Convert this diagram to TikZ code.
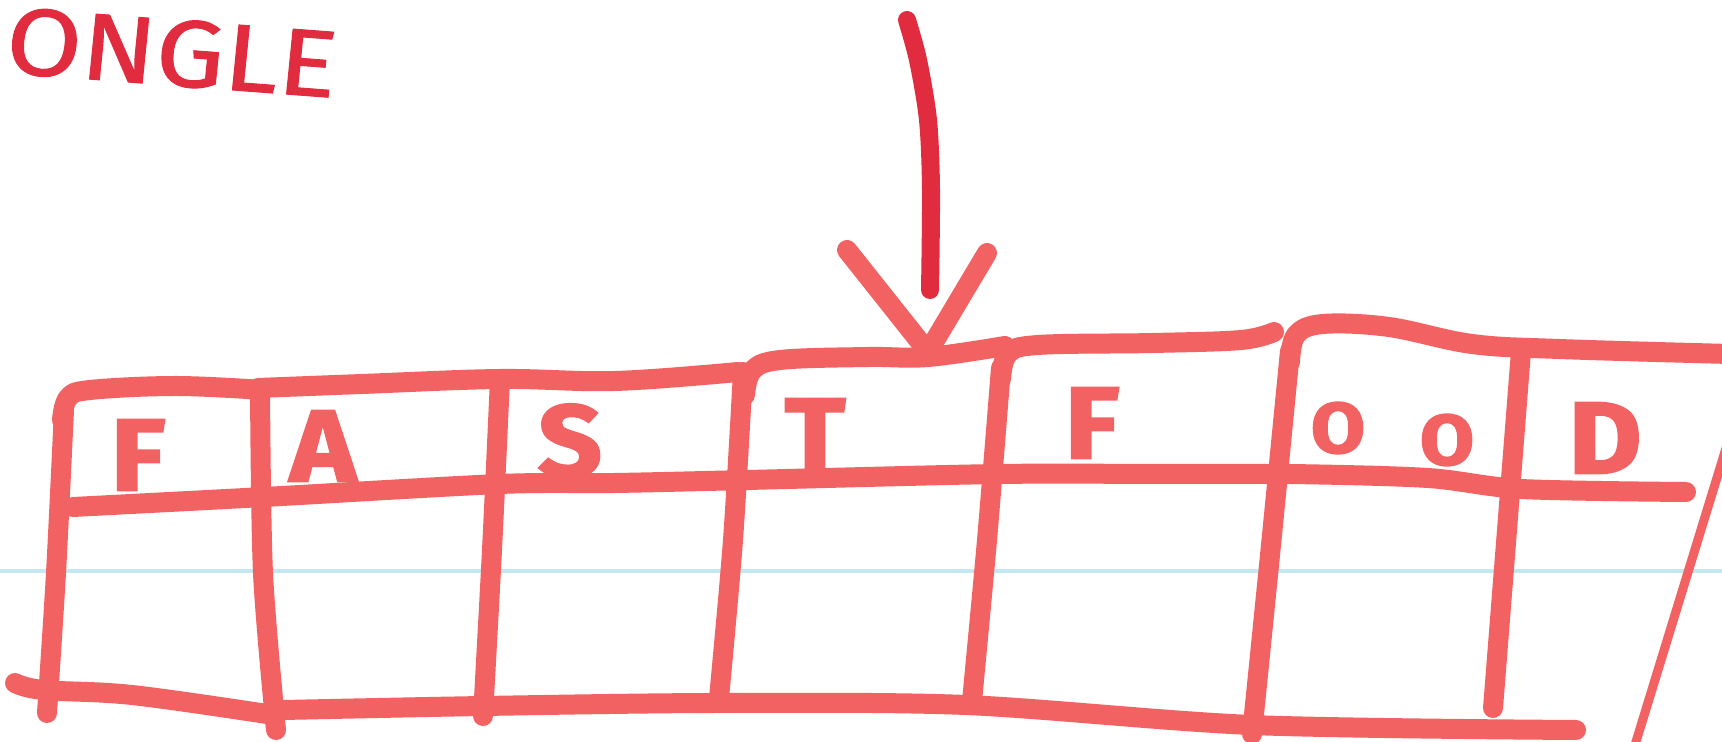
\documentclass[tikz,border=0pt]{standalone}
\usepackage{fontspec}
\setsansfont{Fira Sans}
\newfontfamily\markerfont{Fira Sans}[BoldFeatures={FakeBold=2}]
\newfontfamily\titlefont{Fira Sans}[FakeBold=1]
\usepackage{tikz}
\usetikzlibrary{arrows.meta,positioning}
\definecolor{markerred}{RGB}{243,98,98}
\definecolor{inkred}{RGB}{224,44,62}
\definecolor{ruleblue}{RGB}{196,232,240}
\tikzset{
  penline/.style={draw=markerred,line width=2mm,line cap=round,line join=round},
  inkline/.style={draw=inkred,line width=1.8mm,line cap=round,line join=round},
  thinpen/.style={draw=markerred,line width=0.9mm,line cap=round},
  cellletter/.style={text=markerred,font=\markerfont\bfseries\fontsize{29}{29}\selectfont,inner sep=0pt,xscale=1.1},
  smallletter/.style={cellletter,scale=0.7},
  titletext/.style={text=inkred,font=\titlefont\fontsize{27}{27}\selectfont,inner sep=0pt,xscale=1.15},
  ruleline/.style={draw=ruleblue,line width=0.35mm}
}

\begin{document}
\begin{tikzpicture}[x=0.1mm,y=-0.1mm]
  \useasboundingbox (0,0) rectangle (1722,742);
  %% notebook rule
  \draw[ruleline] (0,571) -- (1722,571);

  %% title fragment
  \node[titletext,anchor=west,rotate=-5] (title) at (6,40) {ONGLE};

  %% pointer
  \coordinate (ptrtop) at (907,20);
  \coordinate (ptrend) at (930,290);
  \coordinate (ptrtip) at (928,352);
  \coordinate (barbL) at (847,250);
  \coordinate (barbR) at (987,253);
  \draw[inkline] plot[smooth,tension=0.5] coordinates {(ptrtop) (918,60) (928,120) (931,190) (ptrend)};
  \draw[penline] (barbL) -- (ptrtip) -- (barbR);

  %% top edge
  \draw[penline] plot[smooth,tension=0.6] coordinates {(62,420) (68,398) (90,390) (176,386) (263,390)};
  \draw[penline] plot[smooth,tension=0.6] coordinates {(258,388) (362,384) (500,379) (615,381) (738,372)};
  \draw[penline] plot[smooth,tension=0.6] coordinates {(745,395) (752,371) (780,360) (868,357) (928,357) (1005,346)};
  \draw[penline] plot[smooth,tension=0.6] coordinates {(1001,379) (1008,354) (1038,345) (1153,343) (1241,340) (1274,332)};
  \draw[penline] plot[smooth,tension=0.6] coordinates {(1290,362) (1296,335) (1323,324) (1389,327) (1472,344) (1559,349) (1730,354)};

  %% header divider
  \draw[penline] plot[smooth,tension=0.5] coordinates {(73,507) (264,497) (500,484) (615,483) (747,480) (999,474) (1164,474) (1290,474) (1428,478) (1521,489) (1686,492)};

  %% bottom edge
  \draw[penline] plot[smooth,tension=0.6] coordinates {(15,683) (43,690) (132,695) (267,714)};
  \draw[penline] plot[smooth,tension=0.5] coordinates {(283,710) (483,706) (714,703) (966,705) (1252,725) (1576,730)};

  %% column rules
  \draw[penline] plot[smooth] coordinates {(64,410) (56,573) (47,713)};
  \draw[penline] plot[smooth] coordinates {(260,388) (263,573) (276,730)};
  \draw[penline] plot[smooth] coordinates {(500,379) (492,550) (483,716)};
  \draw[penline] plot[smooth] coordinates {(743,372) (733,540) (719,698)};
  \draw[penline] plot[smooth] coordinates {(1001,368) (987,540) (972,701)};
  \draw[penline] plot[smooth] coordinates {(1290,351) (1271,545) (1252,734)};
  \draw[penline] plot[smooth] coordinates {(1521,351) (1507,530) (1493,708)};
  \draw[thinpen] (1727,445) -- (1631,758);

  %% letters
  \node[cellletter] (cF) at (138,455) {F};
  \node[cellletter] (cA) at (323,446) {A};
  \node[cellletter] (cS) at (570,441) {S};
  \node[cellletter] (cT) at (815,434) {T};
  \node[cellletter] (cF2) at (1092,423) {F};
  \node[smallletter] (cO) at (1338,428) {O};
  \node[smallletter] (cO2) at (1447,440) {O};
  \node[cellletter] (cD) at (1605,438) {D};
\end{tikzpicture}
\end{document}
